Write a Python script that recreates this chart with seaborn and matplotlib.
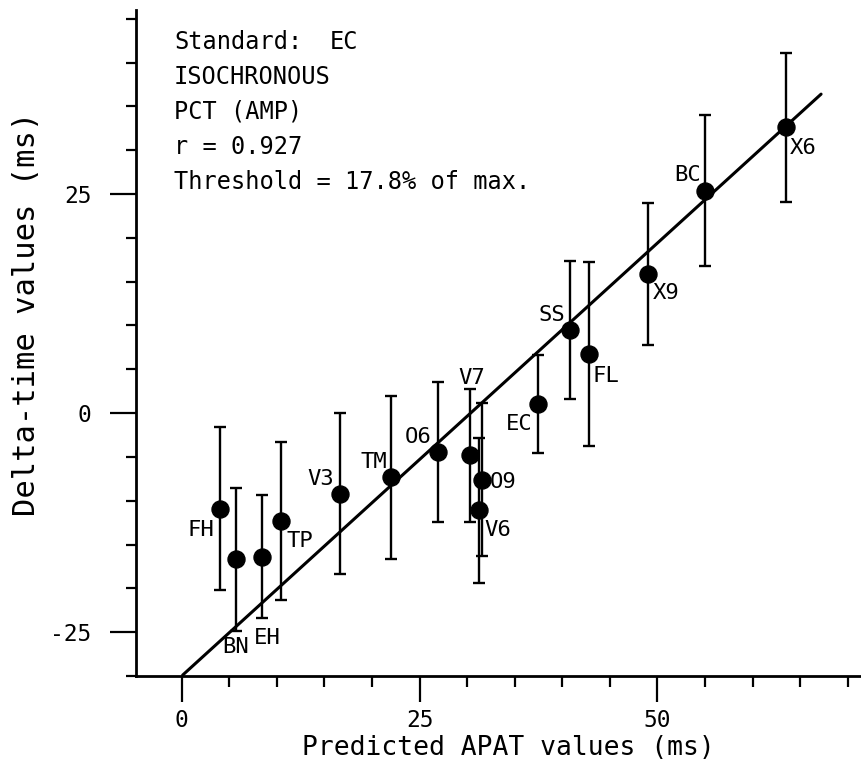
import matplotlib
matplotlib.use("Agg")
import matplotlib.pyplot as plt
import seaborn as sns
import numpy as np
import pandas as pd
from matplotlib.ticker import MultipleLocator, FixedLocator

# ---- data ----
labels = ["FH", "BN", "EH", "TP", "V3", "TM", "O6", "V7", "O9", "V6",
          "EC", "SS", "FL", "X9", "BC", "X6"]
apat = [4.0, 5.7, 8.4, 10.4, 16.6, 22.0, 26.9, 30.3, 31.6, 31.3,
        37.4, 40.8, 42.8, 49.0, 55.0, 63.5]
delta = [-10.9, -16.7, -16.4, -12.3, -9.2, -7.3, -4.4, -4.8, -7.6, -11.1,
         1.0, 9.5, 6.8, 15.9, 25.4, 32.6]
err = [9.3, 8.2, 7.0, 9.0, 9.2, 9.3, 8.0, 7.6, 8.7, 8.3,
       5.6, 7.85, 10.5, 8.1, 8.6, 8.5]
fit_x = [0.1, 67.2]
fit_y = [-29.9, 36.4]
info_lines = ["Standard:", "ISOCHRONOUS", "PCT (AMP)", "r = 0.927",
              "Threshold = 17.8% of max."]
standard_name = "EC"
x_major = [0, 25, 50]
y_major = [-25, 0, 25]

# label placement (pixel offsets from point, alignment)
label_layout = {
    "FH": (-5, -21, "right"), "BN": (0, -88, "center"), "EH": (6, -81, "center"),
    "TP": (6, -20, "left"), "V3": (-5, 15, "right"), "TM": (-4, 15, "right"),
    "O6": (-6, 15, "right"), "V7": (2, 77, "center"), "O9": (7, -2, "left"),
    "V6": (5, -20, "left"), "EC": (-5, -20, "right"), "SS": (-5, 15, "right"),
    "FL": (4, -22, "left"), "X9": (5, -19, "left"), "BC": (-4, 16, "right"),
    "X6": (4, -21, "left"),
}

df = pd.DataFrame({"label": labels, "apat": apat, "delta": delta, "err": err})
fit = pd.DataFrame({"x": fit_x, "y": fit_y})

sns.set_style("ticks")
plt.rcParams["font.family"] = ["DejaVu Sans Mono", "DejaVu Sans"]

W, H = 862, 773
fig = plt.figure(figsize=(W / 100, H / 100), dpi=100)
ax = fig.add_axes([136 / W, 1 - 676 / H, (862 - 136) / W, (676 - 10) / H])

sns.lineplot(data=fit, x="x", y="y", ax=ax, color="black", linewidth=2.2,
             zorder=2)
ax.errorbar(df["apat"], df["delta"], yerr=df["err"], fmt="none",
            ecolor="black", elinewidth=1.7, capsize=4.5, capthick=1.7,
            zorder=3)
sns.scatterplot(data=df, x="apat", y="delta", ax=ax, color="black",
                edgecolor="black", s=150, zorder=4, legend=False)

for lab, xv, yv in zip(labels, apat, delta):
    dx, dy, ha = label_layout[lab]
    ax.annotate(lab, (xv, yv), xytext=(dx, dy), textcoords="offset pixels",
                ha=ha, va="center", fontsize=16, color="black", zorder=5)

ax.set_xlim(-4.8, 71.5)
ax.set_ylim(-30, 46)
ax.xaxis.set_major_locator(FixedLocator(x_major))
ax.yaxis.set_major_locator(FixedLocator(y_major))
ax.xaxis.set_minor_locator(MultipleLocator(5))
ax.yaxis.set_minor_locator(MultipleLocator(5))
ax.set_xticklabels([str(v) for v in x_major])
ax.set_yticklabels([str(v) for v in y_major])

for side in ["top", "right"]:
    ax.spines[side].set_visible(False)
for side in ["left", "bottom"]:
    ax.spines[side].set_linewidth(2.0)
    ax.spines[side].set_color("black")

ax.tick_params(axis="both", which="major", direction="out", length=19,
               width=1.6, color="black", labelsize=16.5, labelcolor="black")
ax.tick_params(axis="x", which="major", pad=5)
ax.tick_params(axis="y", which="major", pad=13)
ax.tick_params(axis="x", which="minor", direction="out", length=8, width=1.6,
               color="black")
ax.tick_params(axis="y", which="minor", direction="out", length=7, width=1.6,
               color="black")

ax.set_xlabel("Predicted APAT values (ms)", fontsize=19, color="black")
ax.set_ylabel("Delta-time values (ms)", fontsize=22, color="black")
ax.xaxis.label.set_va("center")
ax.yaxis.label.set_va("center")
ax.xaxis.set_label_coords((508 - 136) / 726, -(748 - 676) / 666)
ax.yaxis.set_label_coords((27 - 136) / 726, (676 - 314) / 666)

line_y = [42, 77, 112, 147, 182]
for txt, py in zip(info_lines, line_y):
    fig.text(174 / W, 1 - py / H, txt, fontsize=17, ha="left", va="center",
             color="black")
fig.text(330 / W, 1 - line_y[0] / H, standard_name, fontsize=17, ha="left",
         va="center", color="black")

fig.savefig("out.png", dpi=100, facecolor="white")
